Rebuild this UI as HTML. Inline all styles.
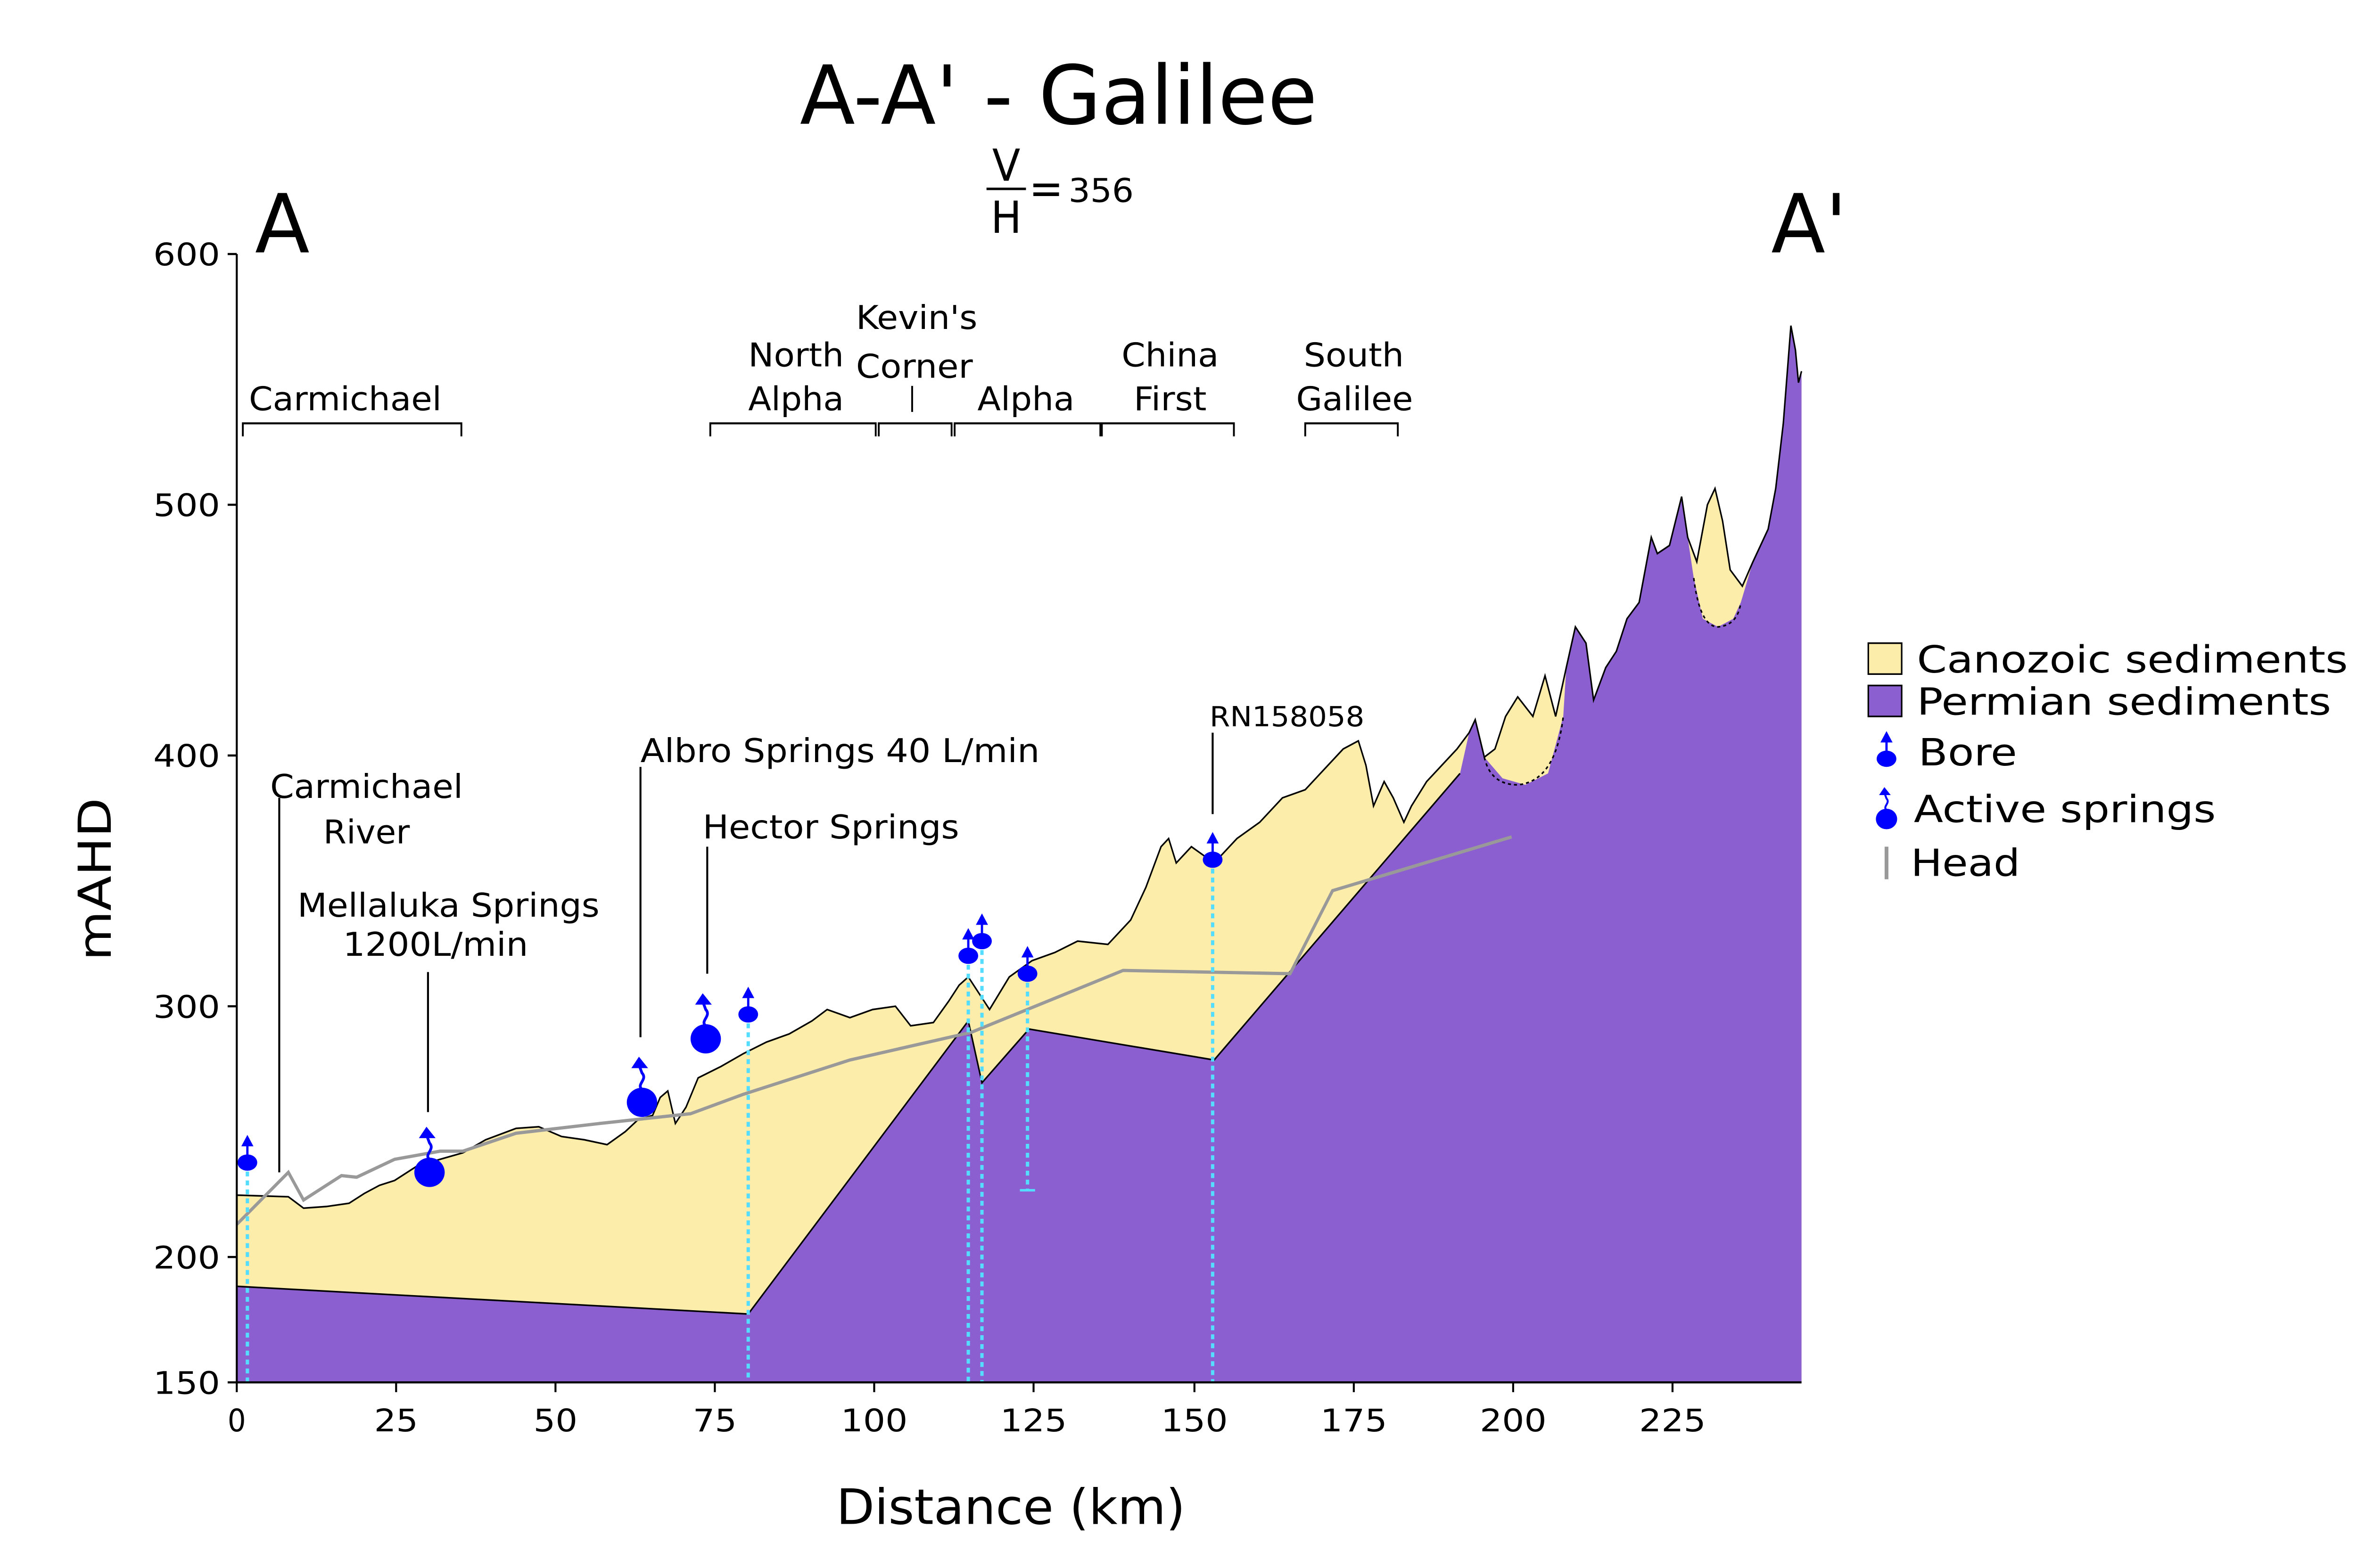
<!DOCTYPE html>
<html><head><meta charset="utf-8"><style>html,body{margin:0;padding:0;background:#fff;width:100vw;height:100vh;overflow:hidden}svg{display:block;width:100vw;height:100vh}</style></head>
<body>
<svg viewBox="0 0 1553 963" preserveAspectRatio="none" xmlns="http://www.w3.org/2000/svg" font-family="DejaVu Sans, Verdana, sans-serif">
<defs>
<g id="bore"><line x1="0" y1="0" x2="0" y2="-12" stroke="#0000ff" stroke-width="1.5"/><polygon points="-4,-10 4,-10 0,-17" fill="#0000ff"/><ellipse cx="0" cy="0" rx="6.5" ry="5" fill="#0000ff"/></g>
<g id="spring"><path d="M0,-8 c-4,-3 4,-6 0,-10 l-2,-5" stroke="#0000ff" stroke-width="1.8" fill="none"/><polygon points="-7,-21 4,-21 -2,-28" fill="#0000ff"/><ellipse cx="0" cy="0" rx="10" ry="9" fill="#0000ff"/></g>
</defs>
<path d="M156,734 L190,735 200,742 215,741 230,739 240,733 250,728 260,725 275,716 290,712 305,708 320,700 340,693 355,692 370,698 385,700 400,703 412,695 420,688 430,685 435,674 440,670 445,690 452,680 460,662 475,655 490,647 505,640 520,635 535,627 545,620 560,625 575,620 590,618 600,630 615,628 625,615 632,605 638,600 645,610 652,620 665,600 680,590 695,585 710,578 730,580 745,565 755,545 765,520 770,515 775,530 785,520 800,530 815,515 830,505 845,490 860,485 875,470 885,460 895,455 900,470 905,495 912,480 918,490 925,505 930,495 940,480 950,470 960,460 968,450 972,442 978,465 985,460 992,440 1000,428 1010,440 1018,415 1025,440 1032,410 1038,385 1045,395 1050,430 1058,410 1065,400 1072,380 1080,370 1088,330 1092,340 1100,335 1108,305 1112,330 1118,345 1125,310 1130,300 1135,320 1140,350 1148,360 1155,345 1160,335 1165,325 1170,300 1175,260 1180,200 1183,215 1185,235 1187,228 L1187,849 156,849Z" fill="#fdedaa"/>
<path d="M156,790 L493,807 638,627 647,665 678,632 800,651 962,475 968,450 972,442 978,465 L990,478 1005,482 1020,475 1030,440 1032,410 1038,385 1045,395 1050,430 1058,410 1065,400 1072,380 1080,370 1088,330 1092,340 1100,335 1108,305 1112,330 1116,355 1122,380 1132,385 1142,380 1147,370 1155,345 1160,335 1165,325 1170,300 1175,260 1180,200 1183,215 1185,235 1187,228 L1187,849 156,849Z" fill="#8c5fd0"/>
<path d="M156,790 L493,807 638,627 647,665 678,632 800,651 962,475" fill="none" stroke="#000" stroke-width="1"/>
<path d="M978,465 Q982,482 1000,482 Q1025,480 1030,440 M1116,355 Q1120,385 1132,385 Q1145,384 1147,370" fill="none" stroke="#000" stroke-width="1" stroke-dasharray="2,2"/>
<path d="M156,734 L190,735 200,742 215,741 230,739 240,733 250,728 260,725 275,716 290,712 305,708 320,700 340,693 355,692 370,698 385,700 400,703 412,695 420,688 430,685 435,674 440,670 445,690 452,680 460,662 475,655 490,647 505,640 520,635 535,627 545,620 560,625 575,620 590,618 600,630 615,628 625,615 632,605 638,600 645,610 652,620 665,600 680,590 695,585 710,578 730,580 745,565 755,545 765,520 770,515 775,530 785,520 800,530 815,515 830,505 845,490 860,485 875,470 885,460 895,455 900,470 905,495 912,480 918,490 925,505 930,495 940,480 950,470 960,460 968,450 972,442 978,465 985,460 992,440 1000,428 1010,440 1018,415 1025,440 1032,410 1038,385 1045,395 1050,430 1058,410 1065,400 1072,380 1080,370 1088,330 1092,340 1100,335 1108,305 1112,330 1118,345 1125,310 1130,300 1135,320 1140,350 1148,360 1155,345 1160,335 1165,325 1170,300 1175,260 1180,200 1183,215 1185,235 1187,228" fill="none" stroke="#000" stroke-width="1"/>
<polyline points="156,752 190,720 200,737 225,722 235,723 260,712 290,707 305,707 340,696 395,690 455,684 490,672 560,651 640,634 740,596 850,598 878,547 996,514" fill="none" stroke="#999" stroke-width="2"/>
<g stroke="#55ddff" stroke-width="2.2" stroke-dasharray="3,2.5">
<line x1="163" y1="714" x2="163" y2="849"/><line x1="493" y1="623" x2="493" y2="849"/>
<line x1="638" y1="587" x2="638" y2="849"/><line x1="647" y1="578" x2="647" y2="849"/>
<line x1="677" y1="598" x2="677" y2="731"/><line x1="799" y1="528" x2="799" y2="849"/></g>
<line x1="672" y1="731" x2="682" y2="731" stroke="#55ddff" stroke-width="1.5"/>
<use href="#bore" x="163" y="714"/><use href="#bore" x="493" y="623"/><use href="#bore" x="638" y="587"/><use href="#bore" x="647" y="578"/><use href="#bore" x="677" y="598"/><use href="#bore" x="799" y="528"/>
<use href="#spring" x="283" y="720"/><use href="#spring" x="423" y="677"/><use href="#spring" x="465" y="638"/>
<g stroke="#000" stroke-width="1.3"><line x1="184" y1="490" x2="184" y2="720"/><line x1="282" y1="597" x2="282" y2="683"/><line x1="422" y1="471" x2="422" y2="637"/><line x1="466" y1="520" x2="466" y2="598"/><line x1="799" y1="450" x2="799" y2="500"/></g>
<g stroke="#000" stroke-width="1.2" fill="none">
<path d="M160,268 V260 H304 V268"/><path d="M468,268 V260 H577 V268"/><path d="M579,268 V260 H627 V268"/><path d="M629,268 V260 H725 V268"/><path d="M726,268 V260 H813 V268"/><path d="M860,268 V260 H921 V268"/><line x1="601" y1="237" x2="601" y2="253"/></g>
<g stroke="#000" stroke-width="1.3"><line x1="156" y1="156" x2="156" y2="849"/><line x1="156" y1="849" x2="1187" y2="849"/>
<line x1="150" y1="156" x2="156" y2="156"/><line x1="150" y1="310" x2="156" y2="310"/><line x1="150" y1="464" x2="156" y2="464"/><line x1="150" y1="618" x2="156" y2="618"/><line x1="150" y1="772" x2="156" y2="772"/><line x1="150" y1="849" x2="156" y2="849"/>
<line x1="156" y1="849" x2="156" y2="855"/><line x1="261" y1="849" x2="261" y2="855"/><line x1="366" y1="849" x2="366" y2="855"/><line x1="471" y1="849" x2="471" y2="855"/><line x1="576" y1="849" x2="576" y2="855"/><line x1="681" y1="849" x2="681" y2="855"/><line x1="787" y1="849" x2="787" y2="855"/><line x1="892" y1="849" x2="892" y2="855"/><line x1="997" y1="849" x2="997" y2="855"/><line x1="1102" y1="849" x2="1102" y2="855"/></g>
<g font-size="19" lengthAdjust="spacingAndGlyphs"><text x="101" y="163" textLength="44" lengthAdjust="spacingAndGlyphs">600</text><text x="101" y="317" textLength="44" lengthAdjust="spacingAndGlyphs">500</text><text x="101" y="471" textLength="44" lengthAdjust="spacingAndGlyphs">400</text><text x="101" y="625" textLength="44" lengthAdjust="spacingAndGlyphs">300</text><text x="101" y="779" textLength="44" lengthAdjust="spacingAndGlyphs">200</text><text x="101" y="856" textLength="44" lengthAdjust="spacingAndGlyphs">150</text></g>
<g font-size="19" text-anchor="middle"><text x="156" y="879">0</text><text x="261" y="879" textLength="29" lengthAdjust="spacingAndGlyphs">25</text><text x="366" y="879" textLength="29" lengthAdjust="spacingAndGlyphs">50</text><text x="471" y="879" textLength="29" lengthAdjust="spacingAndGlyphs">75</text><text x="576" y="879" textLength="44" lengthAdjust="spacingAndGlyphs">100</text><text x="681" y="879" textLength="44" lengthAdjust="spacingAndGlyphs">125</text><text x="787" y="879" textLength="44" lengthAdjust="spacingAndGlyphs">150</text><text x="892" y="879" textLength="44" lengthAdjust="spacingAndGlyphs">175</text><text x="997" y="879" textLength="44" lengthAdjust="spacingAndGlyphs">200</text><text x="1102" y="879" textLength="44" lengthAdjust="spacingAndGlyphs">225</text></g>
<text x="551" y="936" font-size="30" textLength="230" lengthAdjust="spacingAndGlyphs">Distance (km)</text>
<text transform="translate(73,590) rotate(-90)" font-size="30" textLength="100" lengthAdjust="spacingAndGlyphs">mAHD</text>
<text x="527" y="76" font-size="50" textLength="341" lengthAdjust="spacingAndGlyphs">A-A' - Galilee</text>
<text x="663" y="111" font-size="27" text-anchor="middle">V</text><line x1="650" y1="116" x2="676" y2="116" stroke="#000" stroke-width="1.5"/><text x="663" y="143" font-size="27" text-anchor="middle">H</text><text x="678" y="125" font-size="27">=</text><text x="704" y="124" font-size="20" textLength="43" lengthAdjust="spacingAndGlyphs">356</text>
<text x="168" y="155" font-size="50" textLength="36" lengthAdjust="spacingAndGlyphs">A</text><text x="1167" y="155" font-size="50" textLength="50" lengthAdjust="spacingAndGlyphs">A'</text>
<g font-size="20">
<text x="164" y="252" textLength="127" lengthAdjust="spacingAndGlyphs">Carmichael</text>
<text x="493" y="225" textLength="63" lengthAdjust="spacingAndGlyphs">North</text><text x="493" y="252" textLength="63" lengthAdjust="spacingAndGlyphs">Alpha</text>
<text x="564" y="202" textLength="80" lengthAdjust="spacingAndGlyphs">Kevin's</text><text x="564" y="232" textLength="77" lengthAdjust="spacingAndGlyphs">Corner</text>
<text x="644" y="252" textLength="64" lengthAdjust="spacingAndGlyphs">Alpha</text>
<text x="739" y="225" textLength="64" lengthAdjust="spacingAndGlyphs">China</text><text x="747" y="252" textLength="48" lengthAdjust="spacingAndGlyphs">First</text>
<text x="859" y="225" textLength="66" lengthAdjust="spacingAndGlyphs">South</text><text x="854" y="252" textLength="77" lengthAdjust="spacingAndGlyphs">Galilee</text>
<text x="178" y="490" textLength="127" lengthAdjust="spacingAndGlyphs">Carmichael</text><text x="213" y="518" textLength="57" lengthAdjust="spacingAndGlyphs">River</text>
<text x="196" y="563" textLength="199" lengthAdjust="spacingAndGlyphs">Mellaluka Springs</text><text x="226" y="587" textLength="122" lengthAdjust="spacingAndGlyphs">1200L/min</text>
<text x="463" y="515" textLength="169" lengthAdjust="spacingAndGlyphs">Hector Springs</text>
<text x="422" y="468" textLength="263" lengthAdjust="spacingAndGlyphs">Albro Springs 40 L/min</text></g>
<text x="797" y="446" font-size="17" textLength="102" lengthAdjust="spacingAndGlyphs">RN158058</text>
<rect x="1231" y="395" width="22" height="19" fill="#fdedaa" stroke="#000" stroke-width="1"/><rect x="1231" y="421" width="22" height="19" fill="#8c5fd0" stroke="#000" stroke-width="1"/>
<g font-size="23"><text x="1263" y="413" textLength="284" lengthAdjust="spacingAndGlyphs">Canozoic sediments</text><text x="1263" y="439" textLength="273" lengthAdjust="spacingAndGlyphs">Permian sediments</text><text x="1264" y="470" textLength="65" lengthAdjust="spacingAndGlyphs">Bore</text><text x="1261" y="505" textLength="199" lengthAdjust="spacingAndGlyphs">Active springs</text><text x="1259" y="538" textLength="72" lengthAdjust="spacingAndGlyphs">Head</text></g>
<use href="#bore" x="1243" y="466"/>
<g transform="translate(1243,503) scale(0.7)"><use href="#spring"/></g>
<line x1="1243" y1="520" x2="1243" y2="540" stroke="#999" stroke-width="2.5"/>
</svg>
</body></html>
